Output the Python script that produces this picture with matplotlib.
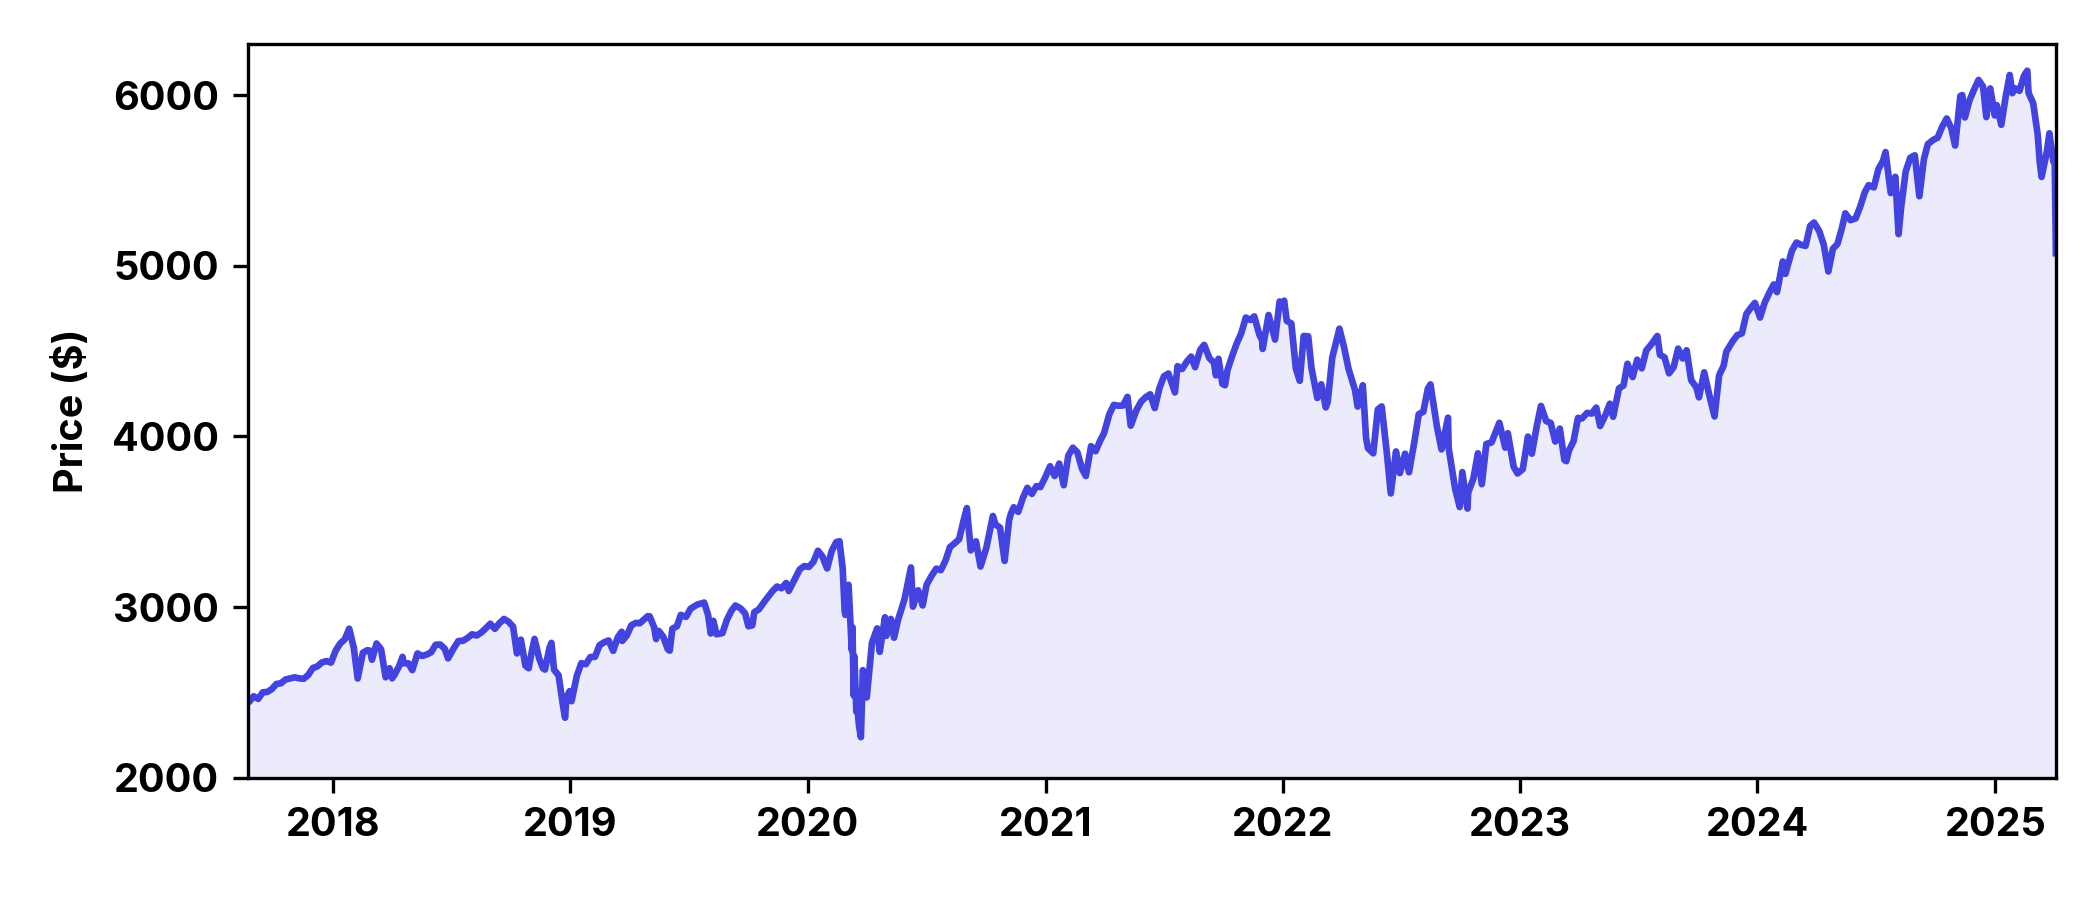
import matplotlib
matplotlib.use("Agg")
import matplotlib.pyplot as plt
import matplotlib.dates as mdates
import pandas as pd

# closing prices (roughly weekly, plus the sharp turns)
dates_2017 = ["08-23", "08-25", "09-01", "09-08", "09-15", "09-22", "09-29", "10-06", "10-13", "10-20",
              "10-27", "11-03", "11-10", "11-17", "11-24", "12-01", "12-08", "12-15", "12-22", "12-29"]
close_2017 = [2444, 2443, 2477, 2461, 2500, 2502, 2519, 2549, 2553, 2575,
              2581, 2588, 2582, 2579, 2602, 2642, 2652, 2675, 2683, 2674]

dates_2018 = ["01-05", "01-12", "01-19", "01-26", "02-02", "02-08", "02-16", "02-23", "02-27", "03-02",
              "03-09", "03-16", "03-23", "03-29", "04-02", "04-06", "04-13", "04-18", "04-20", "04-27",
              "05-03", "05-11", "05-18", "05-25", "06-01", "06-08", "06-15", "06-22", "06-27", "07-06",
              "07-13", "07-20", "07-27", "08-03", "08-10", "08-17", "08-24", "08-31", "09-07", "09-14",
              "09-21", "09-28", "10-05", "10-11", "10-17", "10-24", "10-29", "11-02", "11-07", "11-14",
              "11-20", "11-23", "11-30", "12-03", "12-07", "12-14", "12-21", "12-24", "12-26", "12-31"]
close_2018 = [2743, 2786, 2810, 2873, 2762, 2581, 2732, 2747, 2744, 2691,
              2786, 2752, 2588, 2641, 2582, 2604, 2656, 2708, 2670, 2670,
              2630, 2728, 2713, 2721, 2735, 2779, 2780, 2755, 2699, 2760,
              2801, 2802, 2819, 2840, 2833, 2850, 2875, 2902, 2872, 2905,
              2930, 2914, 2885, 2728, 2809, 2656, 2641, 2723, 2813, 2701,
              2641, 2633, 2760, 2790, 2633, 2600, 2417, 2351, 2468, 2507]

dates_2019 = ["01-03", "01-11", "01-18", "01-25", "02-01", "02-08", "02-15", "02-22", "03-01", "03-08",
              "03-15", "03-21", "03-22", "03-29", "04-05", "04-12", "04-18", "04-30", "05-03", "05-10",
              "05-13", "05-17", "05-24", "05-31", "06-03", "06-07", "06-14", "06-20", "06-28", "07-05",
              "07-15", "07-26", "08-01", "08-05", "08-09", "08-14", "08-23", "08-30", "09-06", "09-12",
              "09-20", "09-27", "10-02", "10-08", "10-11", "10-18", "10-28", "11-08", "11-15", "11-22",
              "11-29", "12-03", "12-13", "12-20", "12-27"]
close_2019 = [2448, 2596, 2671, 2665, 2707, 2708, 2776, 2793, 2804, 2743,
              2822, 2855, 2801, 2834, 2893, 2907, 2905, 2946, 2946, 2881,
              2812, 2860, 2826, 2752, 2744, 2873, 2887, 2954, 2942, 2990,
              3014, 3026, 2953, 2845, 2919, 2840, 2847, 2926, 2979, 3009,
              2992, 2962, 2887, 2893, 2970, 2986, 3039, 3093, 3120, 3110,
              3141, 3094, 3169, 3221, 3240]

dates_2020 = ["01-03", "01-10", "01-17", "01-24", "01-31", "02-07", "02-14", "02-19", "02-24", "02-27",
              "02-28", "03-04", "03-09", "03-10", "03-12", "03-13", "03-16", "03-18", "03-20", "03-23",
              "03-26", "04-01", "04-09", "04-17", "04-21", "04-29", "05-01", "05-08", "05-13", "05-19",
              "05-29", "06-08", "06-11", "06-19", "06-26", "07-02", "07-10", "07-17", "07-24", "07-31",
              "08-07", "08-14", "08-21", "08-28", "09-02", "09-08", "09-16", "09-23", "10-02", "10-12",
              "10-16", "10-23", "10-30", "11-06", "11-09", "11-13", "11-20", "11-27", "12-04", "12-11",
              "12-18", "12-24", "12-31"]
close_2020 = [3235, 3265, 3330, 3295, 3226, 3328, 3380, 3386, 3226, 2979,
              2954, 3130, 2747, 2882, 2481, 2711, 2386, 2398, 2305, 2237,
              2630, 2470, 2790, 2875, 2737, 2940, 2831, 2930, 2820, 2923,
              3044, 3232, 3002, 3098, 3009, 3130, 3185, 3225, 3216, 3271,
              3351, 3373, 3397, 3508, 3580, 3332, 3385, 3237, 3348, 3534,
              3484, 3465, 3270, 3510, 3550, 3585, 3558, 3638, 3699, 3663,
              3709, 3703, 3756]

dates_2021 = ["01-08", "01-15", "01-22", "01-29", "02-05", "02-12", "02-19", "02-26", "03-04", "03-12",
              "03-19", "03-26", "04-01", "04-09", "04-16", "04-23", "04-30", "05-07", "05-12", "05-21",
              "05-28", "06-04", "06-11", "06-18", "06-25", "07-02", "07-09", "07-19", "07-23", "07-30",
              "08-06", "08-13", "08-19", "08-27", "09-02", "09-10", "09-17", "09-20", "09-24", "09-30",
              "10-04", "10-08", "10-15", "10-22", "10-29", "11-05", "11-12", "11-18", "11-26", "11-30",
              "12-01", "12-10", "12-20", "12-27", "12-31"]
close_2021 = [3825, 3768, 3841, 3714, 3887, 3934, 3907, 3811, 3768, 3943,
              3913, 3975, 4020, 4129, 4185, 4180, 4181, 4232, 4063, 4156,
              4204, 4230, 4247, 4166, 4281, 4352, 4369, 4258, 4412, 4395,
              4437, 4468, 4406, 4509, 4537, 4459, 4433, 4358, 4455, 4308,
              4300, 4391, 4471, 4545, 4605, 4697, 4683, 4704, 4595, 4567,
              4513, 4712, 4568, 4791, 4766]

dates_2022 = ["01-03", "01-07", "01-14", "01-21", "01-27", "02-02", "02-09", "02-14", "02-23", "03-01",
              "03-08", "03-11", "03-18", "03-29", "04-05", "04-12", "04-22", "04-26", "05-04", "05-09",
              "05-12", "05-20", "05-27", "06-02", "06-10", "06-16", "06-24", "06-30", "07-08", "07-14",
              "07-22", "07-29", "08-05", "08-12", "08-16", "08-26", "09-02", "09-12", "09-13", "09-23",
              "09-30", "10-04", "10-12", "10-13", "10-21", "10-28", "11-03", "11-10", "11-18", "11-30",
              "12-09", "12-13", "12-22", "12-28"]
close_2022 = [4796, 4677, 4663, 4398, 4326, 4589, 4587, 4401, 4225, 4306,
              4170, 4204, 4463, 4632, 4525, 4397, 4272, 4175, 4300, 3991,
              3930, 3901, 4158, 4176, 3901, 3666, 3912, 3785, 3899, 3790,
              3962, 4130, 4145, 4280, 4305, 4058, 3924, 4110, 3932, 3693,
              3586, 3791, 3577, 3670, 3752, 3901, 3720, 3956, 3965, 4080,
              3934, 4019, 3822, 3783]

dates_2023 = ["01-05", "01-13", "01-19", "01-27", "02-02", "02-10", "02-17", "02-24", "03-03", "03-10",
              "03-13", "03-17", "03-24", "03-31", "04-06", "04-14", "04-21", "04-28", "05-04", "05-12",
              "05-19", "05-24", "06-02", "06-09", "06-15", "06-23", "06-30", "07-07", "07-14", "07-21",
              "07-31", "08-04", "08-11", "08-18", "08-25", "09-01", "09-08", "09-14", "09-21", "09-29",
              "10-03", "10-11", "10-20", "10-27", "11-03", "11-10", "11-14", "11-24", "12-01", "12-08",
              "12-15", "12-22", "12-28"]
close_2023 = [3808, 3999, 3899, 4070, 4179, 4090, 4079, 3970, 4046, 3862,
              3855, 3917, 3971, 4109, 4105, 4138, 4134, 4169, 4061, 4124,
              4192, 4115, 4282, 4299, 4426, 4348, 4450, 4399, 4505, 4536,
              4589, 4478, 4464, 4370, 4406, 4515, 4457, 4505, 4330, 4288,
              4229, 4376, 4224, 4117, 4358, 4415, 4496, 4559, 4594, 4604,
              4719, 4755, 4783]

dates_2024 = ["01-05", "01-12", "01-19", "01-26", "01-31", "02-09", "02-13", "02-23", "03-01", "03-08",
              "03-15", "03-22", "03-28", "04-05", "04-12", "04-19", "04-26", "05-03", "05-10", "05-15",
              "05-23", "05-31", "06-07", "06-14", "06-20", "06-28", "07-05", "07-12", "07-16", "07-24",
              "07-31", "08-05", "08-09", "08-16", "08-23", "08-30", "09-06", "09-13", "09-19", "09-27",
              "10-04", "10-11", "10-18", "10-25", "10-31", "11-08", "11-11", "11-15", "11-22", "11-29",
              "12-06", "12-13", "12-18", "12-24", "12-31"]
close_2024 = [4697, 4784, 4840, 4891, 4846, 5026, 4953, 5089, 5137, 5123,
              5117, 5234, 5254, 5204, 5123, 4967, 5100, 5128, 5223, 5308,
              5268, 5278, 5347, 5431, 5473, 5460, 5567, 5615, 5667, 5427,
              5522, 5186, 5344, 5554, 5634, 5648, 5408, 5626, 5713, 5738,
              5751, 5815, 5864, 5808, 5705, 5996, 6001, 5870, 5969, 6032,
              6090, 6051, 5872, 6040, 5882]

dates_2025 = ["01-03", "01-10", "01-17", "01-23", "01-27", "01-31", "02-07", "02-14", "02-19", "02-21",
              "02-28", "03-07", "03-10", "03-13", "03-21", "03-25", "03-31", "04-02", "04-03", "04-04"]
close_2025 = [5942, 5827, 5997, 6119, 6012, 6041, 6026, 6115, 6144, 6013,
              5955, 5770, 5614, 5521, 5668, 5777, 5612, 5671, 5396, 5074]

LINE_COLOR = "#4343E0"

years = [(2017, dates_2017, close_2017), (2018, dates_2018, close_2018),
         (2019, dates_2019, close_2019), (2020, dates_2020, close_2020),
         (2021, dates_2021, close_2021), (2022, dates_2022, close_2022),
         (2023, dates_2023, close_2023), (2024, dates_2024, close_2024),
         (2025, dates_2025, close_2025)]

dias = []
precos = []
for ano, d, p in years:
    dias += [f"{ano}-{x}" for x in d]
    precos += p
dias = pd.to_datetime(dias)

fig = plt.figure(figsize=(7, 3), dpi=300)
ax = fig.add_axes([0.118, 0.136, 0.861, 0.815])

ax.plot(dias, precos, color=LINE_COLOR, lw=1.6)
ax.fill_between(dias, precos, 2000, color=LINE_COLOR, alpha=0.1, lw=0)

ax.set_xlim(dias[0], dias[-1])
ax.set_ylim(2000, 6300)
ax.set_yticks([2000, 3000, 4000, 5000, 6000])
ax.xaxis.set_major_locator(mdates.YearLocator())
ax.xaxis.set_major_formatter(mdates.DateFormatter("%Y"))

familia = ["Inter", "DejaVu Sans"]
for lab in ax.get_xticklabels() + ax.get_yticklabels():
    lab.set_fontfamily(familia)
    lab.set_fontweight("bold")
    lab.set_fontsize(9.5)
ax.set_ylabel("Price ($)", family=familia, weight="bold", size=9.5, labelpad=5)

for s in ax.spines.values():
    s.set_linewidth(0.8)
ax.tick_params(length=3.5, width=0.8)

fig.savefig("out.png", dpi=300)
